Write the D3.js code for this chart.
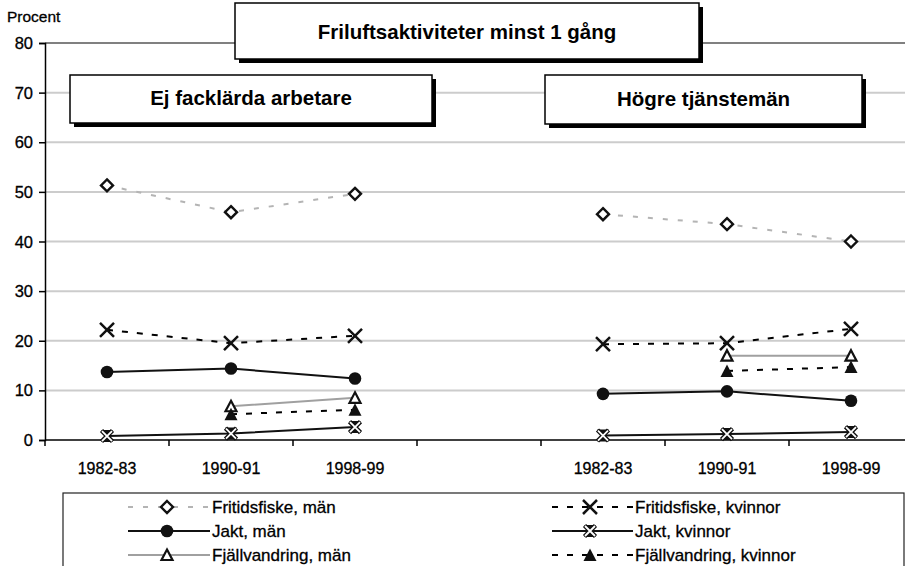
<!DOCTYPE html>
<html>
<head>
<meta charset="utf-8">
<script src="https://cdn.jsdelivr.net/npm/d3@7/dist/d3.min.js"></script>
<style>
  html, body { margin: 0; padding: 0; background: #fff; }
  svg { display: block; font-family: "Liberation Sans", Arial, sans-serif; }
</style>
</head>
<body>
<div id="chart"></div>
<script>
// categories (slot 3 is the empty gap between the two groups)
var categories = ["1982-83", "1990-91", "1998-99", "", "1982-83", "1990-91", "1998-99"];
var yTicks = [0, 10, 20, 30, 40, 50, 60, 70, 80];

var fiskeMan     = [51.3, 45.9, 49.6, null, 45.5, 43.5, 40.0];
var fiskeKvinnor = [22.2, 19.5, 21.0, null, 19.3, 19.5, 22.4];
var jaktMan      = [13.7, 14.4, 12.4, null, 9.3, 9.8, 7.9];
var jaktKvinnor  = [0.8, 1.3, 2.6, null, 0.9, 1.2, 1.6];
var fjallMan     = [null, 6.8, 8.5, null, null, 17.0, 17.0];
var fjallKvinnor = [null, 5.2, 6.1, null, null, 13.9, 14.7];

var seriesNames = ["Fritidsfiske, män", "Fritidsfiske, kvinnor", "Jakt, män",
                   "Jakt, kvinnor", "Fjällvandring, män", "Fjällvandring, kvinnor"];

var mainTitle = "Friluftsaktiviteter minst 1 gång";
var groupTitles = ["Ej facklärda arbetare", "Högre tjänstemän"];

(function() {
    'use strict';

    var W = 905, H = 566;

    var series = [
        {name: seriesNames[0], values: fiskeMan,     stroke: "#b4b4b4", dash: "5,10", marker: "diamond"},
        {name: seriesNames[1], values: fiskeKvinnor, stroke: "#000",    dash: "6,9",  marker: "cross"},
        {name: seriesNames[2], values: jaktMan,      stroke: "#111",    dash: null,   marker: "circle"},
        {name: seriesNames[3], values: jaktKvinnor,  stroke: "#111",    dash: null,   marker: "star"},
        {name: seriesNames[4], values: fjallMan,     stroke: "#a0a0a0", dash: null,   marker: "triOpen"},
        {name: seriesNames[5], values: fjallKvinnor, stroke: "#000",    dash: "6,9",  marker: "triFill"}
    ];

    var svg = d3.select("#chart").append("svg").attr("width", W).attr("height", H);

    var x = d3.scaleBand().domain(d3.range(categories.length)).range([45, 913]).paddingInner(0).paddingOuter(0);
    var y = d3.scaleLinear().domain([0, 80]).range([440, 43]);

    function addText(sel, tx, ty, size, anchor, txt, bold) {
        var t = sel.append("text")
            .attr("x", tx).attr("y", ty)
            .attr("text-anchor", anchor)
            .attr("font-size", size + "px")
            .attr("font-weight", bold ? "bold" : "normal")
            .attr("fill", "#000")
            .text(txt);
        if (!bold) t.attr("stroke", "#000").attr("stroke-width", 0.3);
        return t;
    }

    // gridlines
    var grid = svg.append("g");
    grid.selectAll("line").data(yTicks.filter(function(d){ return d > 0; }))
        .enter().append("line")
        .attr("x1", 45).attr("x2", W)
        .attr("y1", function(d){ return y(d); }).attr("y2", function(d){ return y(d); })
        .attr("stroke", function(d){ return d === 80 ? "#808080" : "#cccccc"; })
        .attr("stroke-width", 2);

    // y axis
    var yAxis = svg.append("g").attr("transform", "translate(45,0)")
        .call(d3.axisLeft(y).tickValues(yTicks).tickSize(6).tickFormat(""));
    yAxis.select(".domain").attr("stroke", "#000").attr("stroke-width", 1.5);
    yAxis.selectAll(".tick line").attr("stroke", "#000").attr("stroke-width", 1.5);
    yTicks.forEach(function(t){
        addText(svg, 33, y(t) + 6, 16.5, "end", String(t));
    });
    addText(svg, 7, 22, 15.5, "start", "Procent");

    // x axis
    var bounds = d3.range(categories.length + 1).map(function(i){ return 45 + i * x.bandwidth(); });
    var xAxisG = svg.append("g");
    xAxisG.append("line").attr("x1", 45).attr("x2", W).attr("y1", y(0)).attr("y2", y(0))
        .attr("stroke", "#000").attr("stroke-width", 1.5);
    xAxisG.selectAll(".tk").data(bounds).enter().append("line").attr("class", "tk")
        .attr("x1", function(d){ return d; }).attr("x2", function(d){ return d; })
        .attr("y1", y(0)).attr("y2", y(0) + 6)
        .attr("stroke", "#000").attr("stroke-width", 1.5);
    categories.forEach(function(c, i){
        if (c) addText(svg, x(i) + x.bandwidth() / 2, 474, 16, "middle", c);
    });

    // markers
    function drawMarker(g, type, cx, cy) {
        var m = g.append("g").attr("transform", "translate(" + cx + "," + cy + ")");
        if (type === "diamond") {
            m.append("path").attr("d", "M0,-6L6,0L0,6L-6,0Z")
                .attr("fill", "#fff").attr("stroke", "#111").attr("stroke-width", 2.4);
        } else if (type === "cross") {
            m.append("path").attr("d", "M-7,-7L7,7M-7,7L7,-7")
                .attr("stroke", "#111").attr("stroke-width", 2.5).attr("fill", "none");
        } else if (type === "circle") {
            m.append("circle").attr("r", 6.3).attr("fill", "#111");
        } else if (type === "star") {
            m.append("path").attr("d", "M-6,-6L6,-6L0,0L6,6L-6,6L0,0Z").attr("fill", "#111");
            m.append("path").attr("d", "M-5.5,-5.5L5.5,5.5M-5.5,5.5L5.5,-5.5")
                .attr("stroke", "#111").attr("stroke-width", 4.5).attr("fill", "none");
            m.append("path").attr("d", "M-5,-5L5,5M-5,5L5,-5")
                .attr("stroke", "#fff").attr("stroke-width", 1.8).attr("fill", "none");
        } else if (type === "triOpen") {
            m.append("path").attr("d", "M0,-5.5L5.5,5L-5.5,5Z")
                .attr("fill", "#fff").attr("stroke", "#111").attr("stroke-width", 2.2)
                .attr("stroke-linejoin", "miter");
        } else if (type === "triFill") {
            m.append("path").attr("d", "M0,-6.5L6.5,6L-6.5,6Z").attr("fill", "#111");
        }
    }

    var line = d3.line()
        .defined(function(d){ return d.v !== null; })
        .x(function(d){ return x(d.i) + x.bandwidth() / 2; })
        .y(function(d){ return y(d.v); });

    var plot = svg.append("g");
    series.forEach(function(s){
        var pts = s.values.map(function(v, i){ return {i: i, v: v}; });
        plot.append("path").datum(pts)
            .attr("d", line)
            .attr("fill", "none")
            .attr("stroke", s.stroke)
            .attr("stroke-width", 2)
            .attr("stroke-dasharray", s.dash);
    });
    series.forEach(function(s){
        s.values.forEach(function(v, i){
            if (v === null) return;
            drawMarker(plot, s.marker, x(i) + x.bandwidth() / 2, y(v));
        });
    });

    // title boxes
    function titleBox(x0, y0, w, h, txt, baseline) {
        svg.append("rect").attr("x", x0 + 4).attr("y", y0 + 4).attr("width", w).attr("height", h).attr("fill", "#000");
        svg.append("rect").attr("x", x0).attr("y", y0).attr("width", w).attr("height", h)
            .attr("fill", "#fff").attr("stroke", "#000").attr("stroke-width", 1.5);
        addText(svg, x0 + w / 2, baseline, 20.5, "middle", txt, true);
    }
    titleBox(235, 3, 464, 56, mainTitle, 38.5);
    titleBox(70, 75, 362, 48, groupTitles[0], 105);
    titleBox(545, 75, 317, 49, groupTitles[1], 106);

    // legend
    svg.append("rect").attr("x", 63).attr("y", 493).attr("width", 841).attr("height", 90)
        .attr("fill", "#fff").attr("stroke", "#222").attr("stroke-width", 1.2);
    var cols = [{x1: 128, x2: 210, mx: 167, tx: 212}, {x1: 552, x2: 633, mx: 590, tx: 635}];
    var rows = [507, 531, 555];
    series.forEach(function(s, i){
        var c = cols[i % 2], ry = rows[Math.floor(i / 2)];
        var lg = svg.append("g");
        lg.append("line").attr("x1", c.x1).attr("x2", c.x2).attr("y1", ry).attr("y2", ry)
            .attr("stroke", s.stroke).attr("stroke-width", 2).attr("stroke-dasharray", s.dash);
        drawMarker(lg, s.marker, c.mx, ry);
        addText(lg, c.tx, ry + 6, 17, "start", s.name);
    });
})();
</script>
</body>
</html>
